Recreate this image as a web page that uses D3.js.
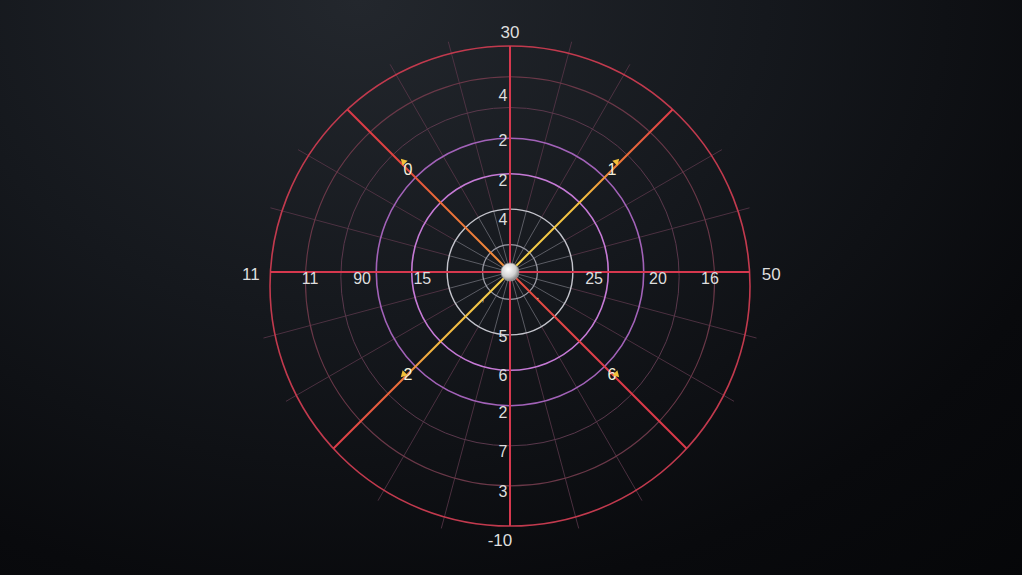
<!DOCTYPE html>
<html><head><meta charset="utf-8">
<script src="https://cdn.jsdelivr.net/npm/d3@7"></script>
<style>html,body{margin:0;padding:0;background:#0c0d10;overflow:hidden}</style>
</head><body><svg id="c" width="1022" height="575"></svg>
<script>
// ---- data ----
const ringLevels = [1, 2, 3, 4, 5, 6, 7];
const topTickLabels = ["4", "2", "2", "4"];
const topTickLevels = [5.2, 3.95, 2.8, 1.7];
const bottomTickLabels = ["5", "6", "2", "7", "3"];
const bottomTickLevels = [2.06, 3.16, 4.2, 5.28, 6.41];
const leftTickLabels = ["11", "90", "15"];
const leftTickLevels = [5.87, 4.4, 2.7];
const rightTickLabels = ["25", "20", "16"];
const rightTickLevels = [2.6, 4.4, 5.87];
const endLabels = ["30", "50", "-10", "11"];
const endAngles = [0, 90, 180, 270];
const endLevels = [7.0, 7.6, 7.76, 7.54];
const diagLabels = ["1", "6", "2", "0"];
const diagAngles = [45, 135, 225, 315];
const diagLevel = 4.3;
const spokeAngles = d3.range(0, 360, 15);

// ---- layout ----
const W = 1022, H = 575, cx = 510, cy = 272;
const svg = d3.select("#c");
const r = d3.scaleLinear().domain([0, 7]).range([-8, 240]);
const off = lv => lv > 4 ? 14 * (lv - 4) / 3 : 0;
const pt = (a, rad) => [cx + rad * Math.sin(a * Math.PI / 180), cy - rad * Math.cos(a * Math.PI / 180)];

const defs = svg.append("defs");
const bg = defs.append("radialGradient").attr("id", "bg").attr("cx", "35%").attr("cy", "0%").attr("r", "100%")
  .attr("gradientTransform", "translate(0.35,0) scale(1,1.4) translate(-0.35,0)");
bg.append("stop").attr("offset", "0%").attr("stop-color", "#23272d");
bg.append("stop").attr("offset", "40%").attr("stop-color", "#15181d");
bg.append("stop").attr("offset", "75%").attr("stop-color", "#090a0d");
bg.append("stop").attr("offset", "100%").attr("stop-color", "#050608");
svg.append("rect").attr("width", W).attr("height", H).attr("fill", "url(#bg)");

const hubG = defs.append("radialGradient").attr("id", "hub").attr("cx", "40%").attr("cy", "35%").attr("r", "70%");
hubG.append("stop").attr("offset", "0%").attr("stop-color", "#ffffff");
hubG.append("stop").attr("offset", "60%").attr("stop-color", "#d0d0d0");
hubG.append("stop").attr("offset", "100%").attr("stop-color", "#707070");

function outerR(a) {
  const R = r(7), dy = off(7);
  const s = Math.sin(a * Math.PI / 180), c = -Math.cos(a * Math.PI / 180);
  const b = -2 * c * dy, cc = dy * dy - R * R;
  return (-b + Math.sqrt(b * b - 4 * cc)) / 2;
}

// faint spokes
const minor = spokeAngles.filter(a => a % 45 !== 0);
svg.append("g").selectAll("line").data(minor).join("line")
  .attr("x1", a => pt(a, r(2))[0]).attr("y1", a => pt(a, r(2))[1])
  .attr("x2", a => pt(a, outerR(a) + 12)[0]).attr("y2", a => pt(a, outerR(a) + 12)[1])
  .attr("stroke", "#563648").attr("stroke-width", 1).attr("opacity", 0.85);
svg.append("g").selectAll("line").data(minor).join("line")
  .attr("x1", a => pt(a, 8)[0]).attr("y1", a => pt(a, 8)[1])
  .attr("x2", a => pt(a, r(2))[0]).attr("y2", a => pt(a, r(2))[1])
  .attr("stroke", "#8a8a94").attr("stroke-width", 1).attr("opacity", 0.6);

// rings
const ringColor = {1: "#9c9ca6", 2: "#c4c4cc", 3: "#c67ad6", 4: "#a262b8", 5: "#5a384c", 6: "#6a3848", 7: "#c23a4e"};
const ringWidth = {1: 1.2, 2: 1.4, 3: 1.6, 4: 1.6, 5: 1, 6: 1.1, 7: 1.6};
svg.append("g").selectAll("circle").data(ringLevels).join("circle")
  .attr("cx", cx).attr("cy", d => cy + off(d)).attr("r", d => r(d))
  .attr("fill", "none").attr("stroke", d => ringColor[d]).attr("stroke-width", d => ringWidth[d]);

// main axes
[0, 90, 180, 270].forEach(a => {
  const p = pt(a, outerR(a));
  svg.append("line").attr("x1", cx).attr("y1", cy).attr("x2", p[0]).attr("y2", p[1])
    .attr("stroke", "#d6384e").attr("stroke-width", 2);
});

// diagonals with gradients
const diagStops = {
  45: ["#f5d24a", "#f5c040", "#ee7a36", "#de3a48"],
  135: ["#e8503e", "#e0404a", "#dc3a48", "#d93848"],
  225: ["#f5d24a", "#f2b440", "#ec6a3a", "#dc3a48"],
  315: ["#f0903a", "#ec6a38", "#e2463e", "#da3848"]
};
diagAngles.forEach(a => {
  const p = pt(a, outerR(a));
  const g = defs.append("linearGradient").attr("id", "dg" + a).attr("gradientUnits", "userSpaceOnUse")
    .attr("x1", cx).attr("y1", cy).attr("x2", p[0]).attr("y2", p[1]);
  diagStops[a].forEach((c, i) => g.append("stop").attr("offset", [0, 0.45, 0.65, 1][i]).attr("stop-color", c));
  svg.append("line").attr("x1", cx).attr("y1", cy).attr("x2", p[0]).attr("y2", p[1])
    .attr("stroke", "url(#dg" + a + ")").attr("stroke-width", 2);
});

// hub
svg.append("circle").attr("cx", cx).attr("cy", cy).attr("r", 9).attr("fill", "url(#hub)")
  .attr("stroke", "#9a9a9a").attr("stroke-width", 0.8);

// labels
const font = "'Liberation Sans', Arial, sans-serif";
const lab = svg.append("g").attr("font-family", font).attr("fill", "#dedede")
  .attr("text-anchor", "middle").attr("dominant-baseline", "central");
topTickLabels.forEach((t, i) => lab.append("text").attr("x", cx - 7).attr("y", cy - r(topTickLevels[i])).attr("font-size", 16).text(t));
bottomTickLabels.forEach((t, i) => lab.append("text").attr("x", cx - 7).attr("y", cy + r(bottomTickLevels[i])).attr("font-size", 16).text(t));
leftTickLabels.forEach((t, i) => lab.append("text").attr("x", cx - r(leftTickLevels[i])).attr("y", cy + 6).attr("font-size", 16).text(t));
rightTickLabels.forEach((t, i) => lab.append("text").attr("x", cx + r(rightTickLevels[i])).attr("y", cy + 6).attr("font-size", 16).text(t));
endLabels.forEach((t, i) => {
  const p = pt(endAngles[i], r(endLevels[i]));
  lab.append("text").attr("x", p[0] - (endAngles[i] === 180 ? 10 : 0)).attr("y", p[1] + (endAngles[i] === 0 ? 0 : 2))
    .attr("font-size", 17).text(t);
});
diagLabels.forEach((t, i) => {
  const a = diagAngles[i];
  const p = pt(a, r(diagLevel));
  const m = pt(a, r(diagLevel) + 6);
  svg.append("path").attr("d", d3.symbol(d3.symbolTriangle, 22)())
    .attr("transform", `translate(${m[0]},${m[1] - 4}) rotate(${a})`).attr("fill", "#f2c23a");
  lab.append("text").attr("x", p[0]).attr("y", p[1]).attr("font-size", 16).attr("fill", "#f3f0dc").text(t);
});
lab.append("text").attr("x", cx - 27).attr("y", cy + 25).attr("font-size", 10).attr("fill", "#d8d0a0").text(",");
lab.append("text").attr("x", cx + 28).attr("y", cy + 23).attr("font-size", 10).attr("fill", "#d8d0a0").text(".");
</script></body></html>
